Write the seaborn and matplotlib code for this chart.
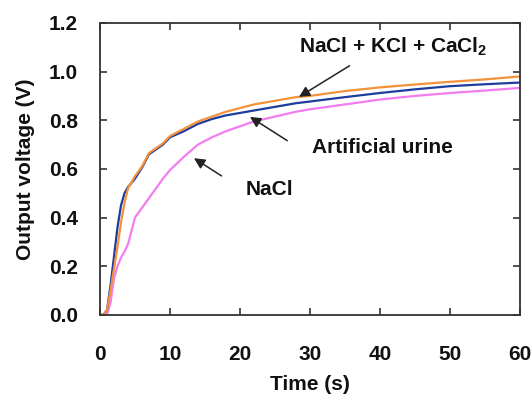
import numpy as np
import pandas as pd
import matplotlib
matplotlib.use("Agg")
import matplotlib.pyplot as plt
import seaborn as sns

time_s = [0, 0.5, 1, 1.5, 2, 2.5, 3, 3.5, 4, 5, 6, 7, 8, 9, 10, 12, 14, 16, 18, 20,
          22, 25, 28, 30, 35, 40, 45, 50, 55, 60]
mixed = [0, 0, 0.02, 0.10, 0.19, 0.28, 0.38, 0.46, 0.52, 0.57, 0.61, 0.665, 0.685, 0.705,
         0.735, 0.765, 0.795, 0.815, 0.835, 0.85, 0.865, 0.88, 0.895, 0.90, 0.92, 0.935,
         0.947, 0.958, 0.968, 0.98]
urine = [0, 0, 0.02, 0.12, 0.24, 0.36, 0.45, 0.50, 0.525, 0.56, 0.605, 0.66, 0.68, 0.70,
         0.73, 0.755, 0.785, 0.805, 0.82, 0.83, 0.84, 0.855, 0.87, 0.877, 0.895, 0.912,
         0.927, 0.94, 0.948, 0.955]
nacl = [0, 0, 0, 0.05, 0.15, 0.20, 0.235, 0.26, 0.29, 0.40, 0.44, 0.48, 0.52, 0.56,
        0.595, 0.65, 0.70, 0.73, 0.755, 0.775, 0.795, 0.815, 0.835, 0.845, 0.865, 0.885,
        0.90, 0.912, 0.922, 0.933]

series_names = ["NaCl", "Artificial urine", "NaCl + KCl + CaCl2"]
series_colors = ["#F27CF0", "#1C3D9E", "#F3923A"]

df = pd.concat([
    pd.DataFrame({"Time": time_s, "Voltage": vals, "Solution": name})
    for name, vals in zip(series_names, [nacl, urine, mixed])
])

sns.set_style("ticks")
plt.rcParams["font.family"] = ["Liberation Sans", "DejaVu Sans"]
plt.rcParams["font.weight"] = "bold"
plt.rcParams["mathtext.fontset"] = "custom"
plt.rcParams["mathtext.rm"] = "Liberation Sans:bold"
plt.rcParams["mathtext.bf"] = "Liberation Sans:bold"
plt.rcParams["mathtext.it"] = "Liberation Sans:bold"

fig = plt.figure(figsize=(5.32, 3.96), dpi=100)
ax = fig.add_axes([0.188, 0.205, 0.789, 0.737])

sns.lineplot(data=df, x="Time", y="Voltage", hue="Solution", hue_order=series_names,
             palette=dict(zip(series_names, series_colors)), linewidth=1.6,
             legend=False, ax=ax)

ax.set_xlim(0, 60)
ax.set_ylim(0, 1.2)
ax.set_xticks([0, 10, 20, 30, 40, 50, 60])
ax.set_yticks([0.0, 0.2, 0.4, 0.6, 0.8, 1.0, 1.2])
ax.set_yticklabels(["0.0", "0.2", "0.4", "0.6", "0.8", "1.0", "1.2"])
ax.tick_params(direction="in", length=5, width=1.2, top=True, right=True,
               colors="#333333", labelcolor="#111111", labelsize=15)
ax.tick_params(axis="x", pad=22)
ax.tick_params(axis="y", pad=16)
for lab in ax.get_xticklabels() + ax.get_yticklabels():
    lab.set_fontweight("bold")
for sp in ax.spines.values():
    sp.set_color("#333333")
    sp.set_linewidth(1.3)

ax.set_xlabel("Time (s)", fontsize=15, fontweight="bold", labelpad=8, color="#111111")
ax.set_ylabel("Output voltage (V)", fontsize=15, fontweight="bold", labelpad=10, color="#111111")

arrowprops = dict(arrowstyle="-|>", color="#222222", lw=1.1, mutation_scale=16)
ax.text(41.9, 1.10, "NaCl + KCl + CaCl$_2$", fontsize=15, fontweight="bold",
        color="#111111", ha="center", va="center")
ax.annotate("", xy=(28.1, 0.89), xytext=(36, 1.03), arrowprops=arrowprops)
ax.text(40.4, 0.69, "Artificial urine", fontsize=15, fontweight="bold",
        color="#111111", ha="center", va="center")
ax.annotate("", xy=(21.1, 0.82), xytext=(27.1, 0.71), arrowprops=arrowprops)
ax.text(24.2, 0.514, "NaCl", fontsize=15, fontweight="bold",
        color="#111111", ha="center", va="center")
ax.annotate("", xy=(13.1, 0.65), xytext=(17.7, 0.565), arrowprops=arrowprops)

fig.savefig("out.png", dpi=100)
